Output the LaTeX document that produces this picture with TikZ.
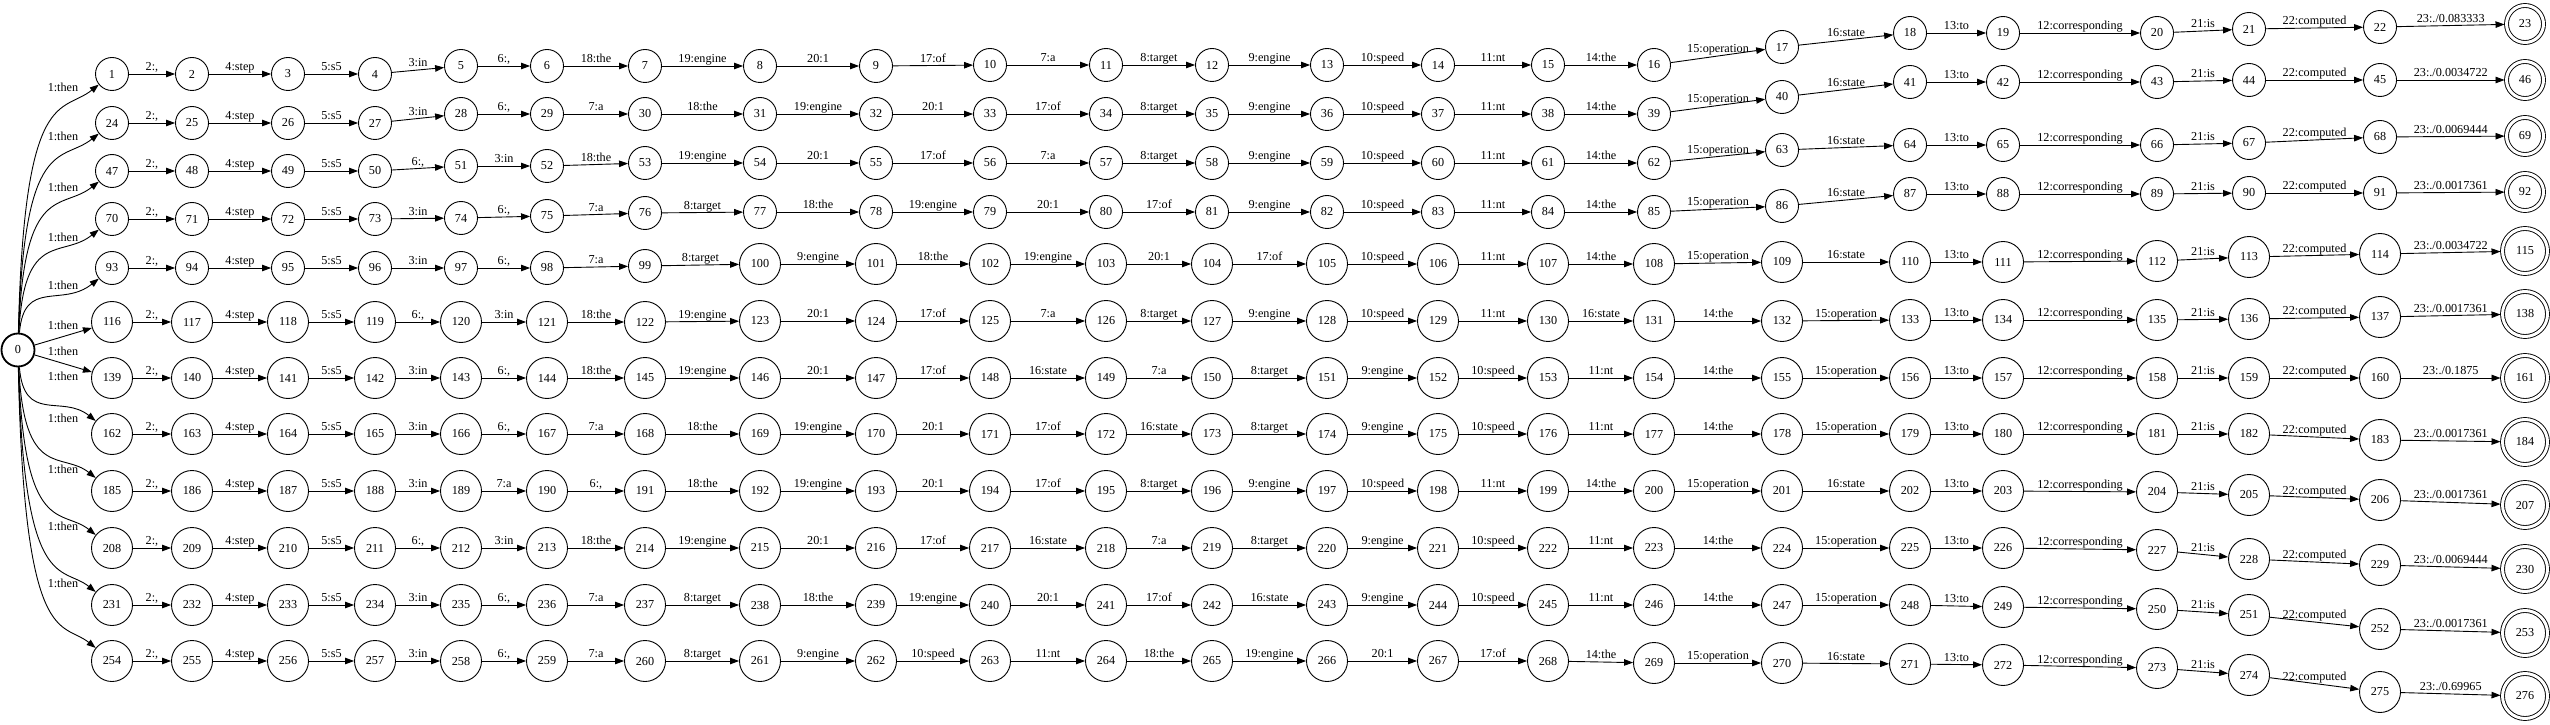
\documentclass[tikz,border=0pt]{standalone}
\usepackage{fontspec}
\setmainfont{Liberation Serif}
\usepackage{tikz}
\usetikzlibrary{arrows.meta}

\tikzset{
  st/.style={circle, draw, inner sep=0pt, minimum size={33+8*(#1>99)}},
  fin/.style={st=#1, double, double distance=3pt, minimum size={37+8*(#1>99)}, outer sep=2pt},
  lab/.style={inner sep=0.5pt, text height=8.5pt, text depth=2.5pt}
}

% x of every column, column 0 holds the start state
\def\colx{{18,112,192,288,375,461,547,645,760,876,990,1106,1212,1327,1438,1548,1654,1782,1910,2003,2157,2249,2380,2525}}

% one row: number of its first state, y of its states, labels of its arcs
\newcommand{\statechain}[3]{%
  \foreach \y [count=\k] in {#2} {
    \pgfmathtruncatemacro{\n}{#1+\k-1}
    \pgfmathsetmacro{\x}{\colx[\k]}
    \ifnum\k<23
      \node[st=\n] (node\n) at (\x,\y) {\n};
    \else
      \node[fin=\n] (node\n) at (\x,\y) {\n};
    \fi
  }
  \foreach \lbl [count=\k] in {#3} {
    \pgfmathtruncatemacro{\src}{#1+\k-1}
    \pgfmathtruncatemacro{\dst}{\src+1}
    \draw[->] (node\src) -- node[lab, above] {\lbl} (node\dst);
  }
}

\begin{document}
\begin{tikzpicture}[x=1pt, y=1pt, line width=0.9pt, >={Triangle[length=9pt,width=6.5pt]},
  font=\fontsize{12.2}{14}\selectfont]
	\useasboundingbox (0,0) rectangle (2550,724);

	\node[st=0, line width=1.8pt] (node0) at (18,374) {0};

	\statechain{1}{650,650,650,650,658,658,658,658,658,659,659,659,659,659,659,659,677,691,691,691,695,697,700}
		{{2:,},4:step,5:s5,3:in,{6:,},18:the,19:engine,20:1,17:of,7:a,8:target,9:engine,10:speed,11:nt,14:the,15:operation,16:state,13:to,12:corresponding,21:is,22:computed,{23:./0.083333}}
	\statechain{24}{601,601,601,601,610,610,610,610,610,610,610,610,610,610,610,610,627,642,642,642,644,644,644}
		{{2:,},4:step,5:s5,3:in,{6:,},7:a,18:the,19:engine,20:1,17:of,8:target,9:engine,10:speed,11:nt,14:the,15:operation,16:state,13:to,12:corresponding,21:is,22:computed,{23:./0.0034722}}
	\statechain{47}{553,553,553,553,558,558,561,561,561,561,561,561,561,561,561,561,574,579,579,579,581,587,588}
		{{2:,},4:step,5:s5,{6:,},3:in,18:the,19:engine,20:1,17:of,7:a,8:target,9:engine,10:speed,11:nt,14:the,15:operation,16:state,13:to,12:corresponding,21:is,22:computed,{23:./0.0069444}}
	\statechain{70}{505,505,505,505,506,508,511,512,512,512,512,512,512,512,512,512,518,530,530,530,531,531,532}
		{{2:,},4:step,5:s5,3:in,{6:,},7:a,8:target,18:the,19:engine,20:1,17:of,9:engine,10:speed,11:nt,14:the,15:operation,16:state,13:to,12:corresponding,21:is,22:computed,{23:./0.0017361}}
	\statechain{93}{456,456,456,456,456,456,458,460,460,460,460,460,460,460,460,460,462,462,462,463,467,470,473}
		{{2:,},4:step,5:s5,3:in,{6:,},7:a,8:target,9:engine,18:the,19:engine,20:1,17:of,10:speed,11:nt,14:the,15:operation,16:state,13:to,12:corresponding,21:is,22:computed,{23:./0.0034722}}
	\statechain{116}{402,402,402,402,402,402,402,403,403,403,403,403,403,403,403,403,403,404,404,404,405,407,410}
		{{2:,},4:step,5:s5,{6:,},3:in,18:the,19:engine,20:1,17:of,7:a,8:target,9:engine,10:speed,11:nt,16:state,14:the,15:operation,13:to,12:corresponding,21:is,22:computed,{23:./0.0017361}}
	\statechain{139}{346,346,346,346,346,346,346,346,346,346,346,346,346,346,346,346,346,346,346,346,346,346,346}
		{{2:,},4:step,5:s5,3:in,{6:,},18:the,19:engine,20:1,17:of,16:state,7:a,8:target,9:engine,10:speed,11:nt,14:the,15:operation,13:to,12:corresponding,21:is,22:computed,{23:./0.1875}}
	\statechain{162}{290,290,290,290,290,290,290,290,290,290,290,290,290,290,290,290,290,290,290,290,290,284,282}
		{{2:,},4:step,5:s5,3:in,{6:,},7:a,18:the,19:engine,20:1,17:of,16:state,8:target,9:engine,10:speed,11:nt,14:the,15:operation,13:to,12:corresponding,21:is,22:computed,{23:./0.0017361}}
	\statechain{185}{233,233,233,233,233,233,233,233,233,233,233,233,233,233,233,233,233,233,233,232,229,224,219}
		{{2:,},4:step,5:s5,3:in,7:a,{6:,},18:the,19:engine,20:1,17:of,8:target,9:engine,10:speed,11:nt,14:the,15:operation,16:state,13:to,12:corresponding,21:is,22:computed,{23:./0.0017361}}
	\statechain{208}{176,176,176,176,176,176,176,176,176,176,176,176,176,176,176,176,176,176,176,174,165,159,155}
		{{2:,},4:step,5:s5,{6:,},3:in,18:the,19:engine,20:1,17:of,16:state,7:a,8:target,9:engine,10:speed,11:nt,14:the,15:operation,13:to,12:corresponding,21:is,22:computed,{23:./0.0069444}}
	\statechain{231}{119,119,119,119,119,119,119,119,119,119,119,119,119,119,119,119,119,119,117,115,109,95,91}
		{{2:,},4:step,5:s5,3:in,{6:,},7:a,8:target,18:the,19:engine,20:1,17:of,16:state,9:engine,10:speed,11:nt,14:the,15:operation,13:to,12:corresponding,21:is,22:computed,{23:./0.0017361}}
	\statechain{254}{63,63,63,63,63,63,63,63,63,63,63,63,63,63,63,61,61,60,59,56,49,32,28}
		{{2:,},4:step,5:s5,3:in,{6:,},7:a,8:target,9:engine,10:speed,11:nt,18:the,19:engine,20:1,17:of,14:the,15:operation,16:state,13:to,12:corresponding,21:is,22:computed,{23:./0.69965}}

	% arcs out of the start state
	\draw[->] (node0) .. controls (24,640) and (62,610) .. (node1) node[lab] at (63,635) {1:then};
	\draw[->] (node0) .. controls (24,591) and (62,561) .. (node24) node[lab] at (63,586) {1:then};
	\draw[->] (node0) .. controls (24,543) and (62,513) .. (node47) node[lab] at (63,535) {1:then};
	\draw[->] (node0) .. controls (24,495) and (62,465) .. (node70) node[lab] at (63,485) {1:then};
	\draw[->] (node0) .. controls (24,446) and (62,416) .. (node93) node[lab] at (63,438) {1:then};
	\draw[->] (node0) -- (node116) node[lab] at (63,398) {1:then};
	\draw[->] (node0) -- (node139) node[lab] at (63,372) {1:then};
	\draw[->] (node0) .. controls (24,300) and (62,330) .. (node162) node[lab] at (63,347) {1:then};
	\draw[->] (node0) .. controls (24,243) and (62,273) .. (node185) node[lab] at (63,305) {1:then};
	\draw[->] (node0) .. controls (24,186) and (62,216) .. (node208) node[lab] at (63,254) {1:then};
	\draw[->] (node0) .. controls (24,129) and (62,159) .. (node231) node[lab] at (63,197) {1:then};
	\draw[->] (node0) .. controls (24,73) and (62,103) .. (node254) node[lab] at (63,140) {1:then};
\end{tikzpicture}
\end{document}
